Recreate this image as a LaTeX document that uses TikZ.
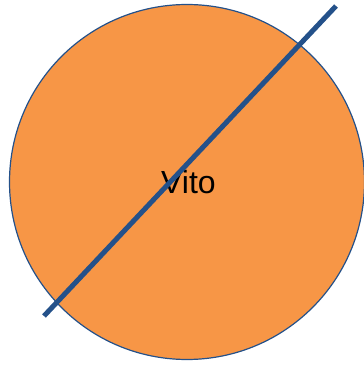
\documentclass[tikz,border=0pt]{standalone}
\usepackage{fontspec}
\setmainfont{Liberation Sans}
\usepackage{xcolor}
\usepackage{tikz}
\usetikzlibrary{positioning}

\definecolor{vitoorange}{HTML}{F79646}
\definecolor{vitoblue}{HTML}{24518A}

\begin{document}
\begin{tikzpicture}[
  x=1pt, y=1pt,
  person/.style={circle, draw=vitoblue, line width=1.2pt, fill=vitoorange,
                 minimum size=355pt, inner sep=0pt},
  cross/.style={draw=vitoblue, line width=5pt}
]
\useasboundingbox (0,0) rectangle (364,365);
\node[person] (vito) at (187,183) {};
\node (name) at (188.5,183) {\fontsize{32}{38}\selectfont Vito};

% strike-through
\coordinate (lo) at (44,49);
\coordinate (hi) at (336,359);
\draw[cross] (lo) -- (hi);
\end{tikzpicture}
\end{document}
